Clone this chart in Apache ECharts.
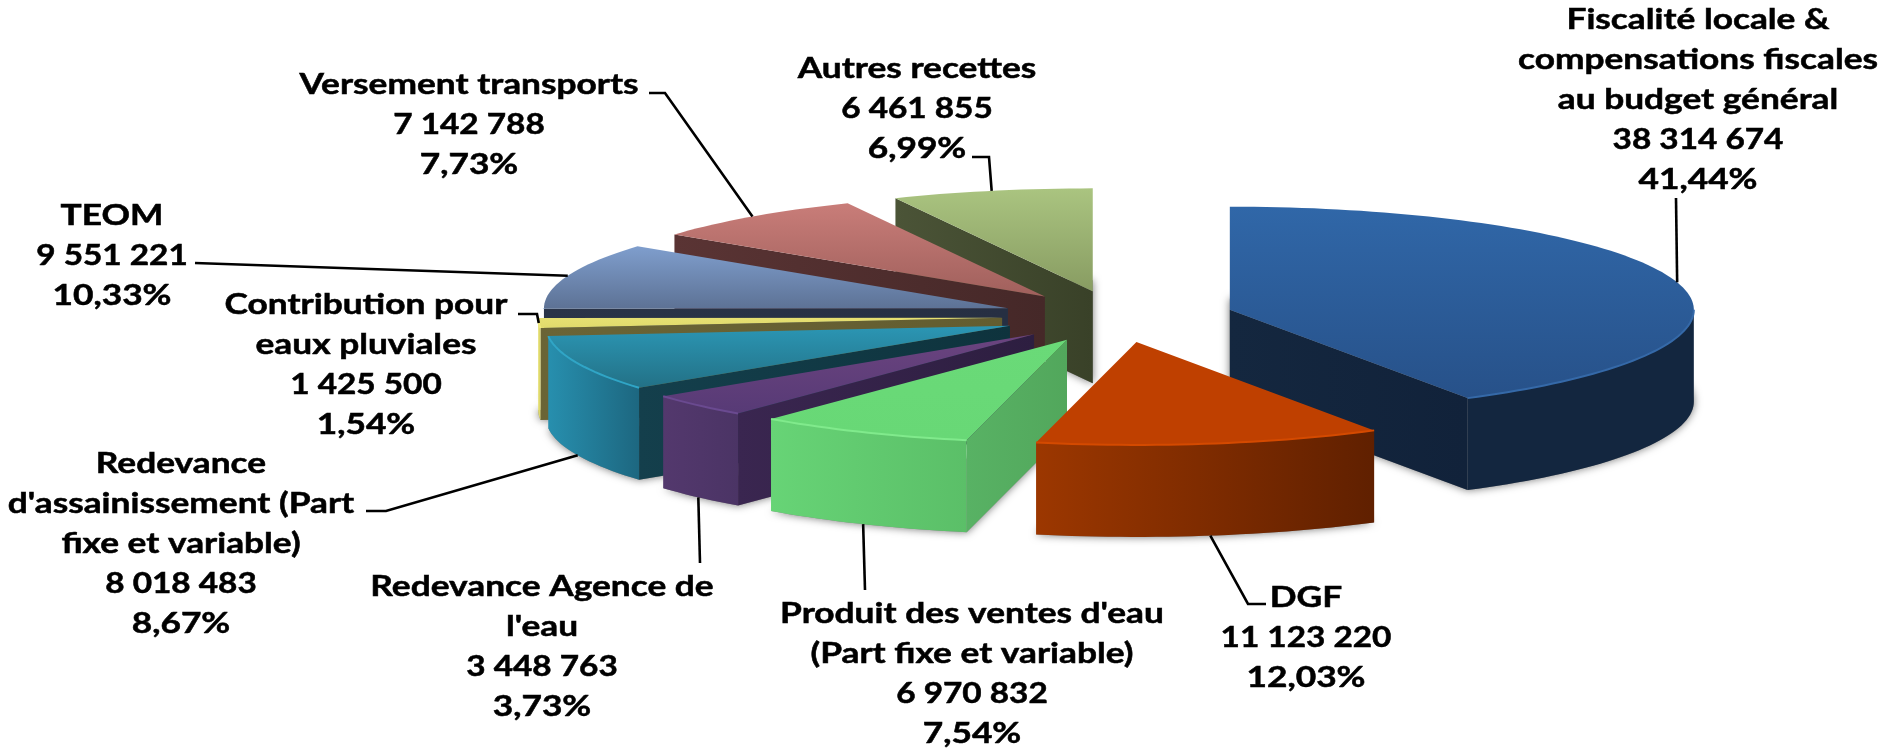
<!DOCTYPE html>
<html>
<head>
<meta charset="utf-8">
<title>Recettes</title>
<script src="https://cdn.jsdelivr.net/npm/echarts@6/dist/echarts.min.js"></script>
<style>
  html, body { margin: 0; padding: 0; background: #fff; }
  #chart { width: 1882px; height: 749px; }
</style>
</head>
<body>
<div id="chart"></div>
<script>
const categories = [
  'Fiscalité locale &\ncompensations fiscales\nau budget général',
  'DGF',
  "Produit des ventes d'eau\n(Part fixe et variable)",
  "Redevance Agence de\nl'eau",
  "Redevance\nd'assainissement (Part\nfixe et variable)",
  'Contribution pour\neaux pluviales',
  'TEOM',
  'Versement transports',
  'Autres recettes'
];
const values = [38314674, 11123220, 6970832, 3448763, 8018483, 1425500, 9551221, 7142788, 6461855];
const percents = ['41,44%', '12,03%', '7,54%', '3,73%', '8,67%', '1,54%', '10,33%', '7,73%', '6,99%'];

// back to front, the pie has no real depth sorting
const drawOrder = [8, 0, 7, 6, 5, 4, 3, 2, 1];

const palette = [
  { top: ['#3067a8', '#275189'], outer: ['#13263f', '#13263f'], side: ['#14273f', '#11223a'], rim: '#3569a8' },
  { top: ['#bf4000', '#bf4000'], outer: ['#9c3700', '#602000'], side: ['#602000', '#602000'], rim: '#d44a00' },
  { top: ['#6ada78', '#68d876'], outer: ['#67d476', '#5bbf68'], side: ['#58b264', '#52a75c'], rim: '#80ea8c' },
  { top: ['#6b447f', '#573a76'], outer: ['#53386d', '#4b3465'], side: ['#3a2650', '#2d1e40'], rim: '#6a4a90' },
  { top: ['#2b96b4', '#237186'], outer: ['#278fae', '#1d6780'], side: ['#143f4c', '#0e333d'], rim: '#30a5c6' },
  { top: ['#e6e072', '#e0da6c'], outer: ['#e6e072', '#d8d268'], side: ['#6a6436', '#635d30'], rim: '#efe97c' },
  { top: ['#7f9ecd', '#5d7295'], outer: ['#3a4a66', '#3a4a66'], side: ['#2a3448', '#262f42'], rim: '#7f9ecd' },
  { top: ['#c97d79', '#a0605c'], outer: ['#5a3333', '#5a3333'], side: ['#5a3434', '#452828'], rim: '#c97d79' },
  { top: ['#aac480', '#889c62'], outer: ['#4a5236', '#4a5236'], side: ['#4b5437', '#394128'], rim: '#aac480' }
];

// where the text blocks sit: centre x and y of the first line
const labelPos = [
  [1698, 20], [1306, 598], [972, 614], [542, 587], [181, 464],
  [366, 305], [112, 216], [469, 85], [917, 69]
];
// leader line from the slice to the text, rim point comes from the slice
const leaderEnds = [
  [[1676, 198]],
  [[1248, 604], [1266, 604]],
  [[865, 590]],
  [[700, 563]],
  [[386, 511], [366, 511]],
  [[537, 314], [518, 314]],
  [[195, 263]],
  [[665, 93], [649, 93]],
  [[989, 157], [972, 157]]
];

const pie = { cx: 1118, cy: 316.5, rx: 464, ry: 103, depth: 92, explode: 0.25 };
const lineGap = 40;
const rad = Math.PI / 180;

const total = values.reduce((a, b) => a + b, 0);
const slices = [];
let acc = 0;
values.forEach((v) => {
  const start = acc / total * 360;
  acc += v;
  slices.push({ start: start, end: acc / total * 360 });
});

function apex(i) {
  const mid = (slices[i].start + slices[i].end) / 2 * rad;
  return [pie.cx + pie.explode * pie.rx * Math.sin(mid), pie.cy - pie.explode * pie.ry * Math.cos(mid)];
}

function rimPoint(i, deg, down) {
  const a = apex(i);
  return [a[0] + pie.rx * Math.sin(deg * rad), a[1] - pie.ry * Math.cos(deg * rad) + (down || 0)];
}

function arc(i, from, to, down) {
  const pts = [];
  const n = Math.max(2, Math.ceil((to - from) / 1.5));
  for (let k = 0; k <= n; k++) {
    pts.push(rimPoint(i, from + (to - from) * k / n, down));
  }
  return pts;
}

function vGrad(c) {
  return { type: 'linear', x: 0, y: 0, x2: 0, y2: 1, colorStops: [{ offset: 0, color: c[0] }, { offset: 1, color: c[1] }] };
}
function hGrad(c) {
  return { type: 'linear', x: 0, y: 0, x2: 1, y2: 0, colorStops: [{ offset: 0, color: c[0] }, { offset: 1, color: c[1] }] };
}

function sector(i, down) {
  const a = apex(i);
  return [[a[0], a[1] + down]].concat(arc(i, slices[i].start, slices[i].end, down));
}

function sideFace(i, deg, color) {
  const a = apex(i);
  const p = rimPoint(i, deg);
  return {
    type: 'polygon',
    shape: { points: [a, p, [p[0], p[1] + pie.depth], [a[0], a[1] + pie.depth]] },
    style: { fill: hGrad(color) }
  };
}

const renderShadow = (params) => {
  const i = drawOrder[params.dataIndex];
  return {
    type: 'polygon',
    shape: { points: sector(i, pie.depth) },
    style: { fill: '#888', shadowColor: 'rgba(0,0,0,0.55)', shadowBlur: 9 }
  };
};

const renderSlice = (params) => {
  const i = drawOrder[params.dataIndex];
  const s = slices[i];
  const c = palette[i];
  const children = [];

  // walls facing the viewer only
  if (Math.sin(s.start * rad) < -0.001) children.push(sideFace(i, s.start, c.side));
  if (Math.sin(s.end * rad) > 0.001) children.push(sideFace(i, s.end, c.side));

  const from = Math.max(s.start, 90);
  const to = Math.min(s.end, 270);
  if (to > from) {
    const up = arc(i, from, to, 0);
    const low = arc(i, from, to, pie.depth).reverse();
    children.push({
      type: 'polygon',
      shape: { points: up.concat(low) },
      style: { fill: hGrad(c.outer) }
    });
  }

  children.push({
    type: 'polygon',
    shape: { points: sector(i, 0) },
    style: { fill: vGrad(c.top) }
  });
  if (to > from) {
    children.push({
      type: 'polyline',
      shape: { points: arc(i, from, to, 0) },
      style: { fill: 'none', stroke: c.rim, lineWidth: 2 }
    });
  }
  return { type: 'group', children: children };
};

const fmt = (v) => String(v).replace(/\B(?=(\d{3})+(?!\d))/g, ' ');

const renderLabel = (params) => {
  const i = params.dataIndex;
  const s = slices[i];
  const mid = (s.start + s.end) / 2;
  const front = mid > 90 && mid < 265;
  const children = [{
    type: 'polyline',
    shape: { points: [rimPoint(i, mid, front ? pie.depth : 0)].concat(leaderEnds[i]) },
    style: { fill: 'none', stroke: '#000', lineWidth: 2.6 }
  }];
  const names = categories[i].split('\n');
  const lines = names.concat([fmt(values[i]), percents[i]]);
  lines.forEach((t, k) => {
    children.push({
      type: 'text',
      x: labelPos[i][0],
      y: labelPos[i][1] + k * lineGap,
      // the source text is stretched sideways, the numbers a bit less
      scaleX: k === names.length ? 1.19 : 1.26,
      style: {
        text: t,
        fill: '#000',
        stroke: '#000',
        lineWidth: 0.5,
        font: 'bold 28px Lato',
        textAlign: 'center',
        textVerticalAlign: 'middle'
      }
    });
  });
  return { type: 'group', children: children };
};

const chart = echarts.init(document.getElementById('chart'));
const option = {
  animation: false,
  backgroundColor: '#fff',
  series: [
    { type: 'custom', coordinateSystem: 'none', silent: true, z: 1, renderItem: renderShadow, data: drawOrder.map((i) => [values[i]]) },
    { type: 'custom', coordinateSystem: 'none', silent: true, z: 2, renderItem: renderSlice, data: drawOrder.map((i) => [values[i]]) },
    { type: 'custom', coordinateSystem: 'none', silent: true, z: 3, renderItem: renderLabel, data: values.map((v) => [v]) }
  ]
};
chart.setOption(option);
</script>
</body>
</html>
